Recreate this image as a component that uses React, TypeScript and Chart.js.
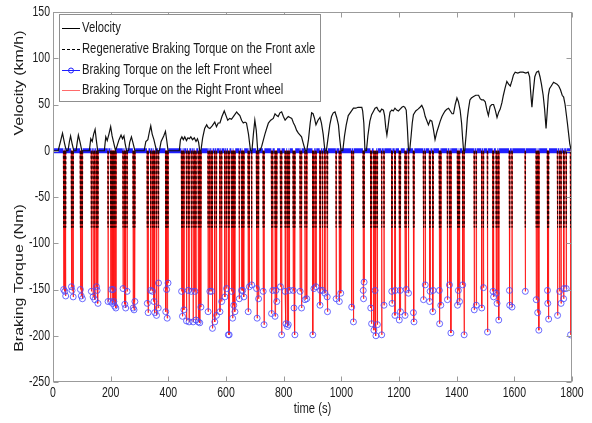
import React, { useEffect, useRef } from 'react';
import { Chart, registerables } from 'chart.js';

Chart.register(...registerables);

// Vehicle speed over the drive cycle (s, km/h)
const velTime = [
  0, 18, 26, 33, 40, 46, 52, 57, 61, 66, 72, 80, 84, 88, 94, 100, 126, 131, 136, 141, 146, 150, 155, 178, 183, 188,
  194, 200, 205, 211, 217, 222, 229, 236, 241, 246, 250, 255, 262, 266, 272, 277, 284, 316, 322, 329, 334, 339, 344,
  350, 356, 360, 369, 375, 384, 390, 395, 399, 438, 442, 447, 452, 457, 463, 468, 473, 478, 484, 490, 496, 501, 505,
  509, 513, 519, 526, 533, 538, 544, 552, 561, 567, 573, 579, 586, 594, 600, 606, 613, 619, 628, 637, 642, 648, 654,
  660, 666, 671, 678, 685, 690, 695, 700, 705, 710, 718, 724, 729, 735, 741, 747, 755, 764, 770, 776, 781, 787, 793,
  799, 805, 810, 816, 822, 828, 834, 839, 845, 851, 857, 862, 868, 875, 880, 886, 892, 897, 902, 907, 912, 919, 926,
  931, 937, 943, 948, 954, 960, 966, 972, 978, 984, 990, 994, 999, 1005, 1011, 1017, 1024, 1033, 1042, 1050, 1058,
  1066, 1071, 1074, 1078, 1082, 1087, 1092, 1099, 1105, 1112, 1117, 1123, 1128, 1134, 1140, 1146, 1150, 1154, 1158,
  1162, 1166, 1169, 1175, 1180, 1186, 1192, 1198, 1204, 1210, 1215, 1220, 1225, 1229, 1233, 1237, 1242, 1246, 1250,
  1258, 1266, 1273, 1279, 1285, 1291, 1296, 1302, 1308, 1314, 1319, 1325, 1331, 1337, 1343, 1349, 1354, 1360, 1366,
  1372, 1378, 1384, 1389, 1395, 1401, 1406, 1412, 1417, 1421, 1424, 1428, 1433, 1437, 1441, 1446, 1451, 1456, 1466,
  1476, 1482, 1487, 1493, 1499, 1505, 1510, 1516, 1522, 1528, 1534, 1540, 1546, 1551, 1557, 1562, 1568, 1574, 1580,
  1586, 1592, 1597, 1603, 1612, 1620, 1630, 1640, 1648, 1653, 1657, 1661, 1665, 1671, 1677, 1684, 1689, 1694, 1700,
  1705, 1710, 1714, 1718, 1722, 1728, 1736, 1742, 1748, 1754, 1760, 1766, 1771, 1776, 1780, 1784, 1788, 1792, 1796,
  1800,
];
const velKmh = [
  0, 0, 10, 19, 8, 0, 0, 10, 16, 8, 0, 0, 9, 17, 9, 0, 0, 13, 10, 18, 23, 12, 0, 0, 15, 11,
  18, 26, 16, 8, 0, 5, 12, 17, 13, 16, 8, 0, 0, 9, 15, 9, 0, 0, 10, 12, 20, 27, 18,
  12, 4, 0, 0, 10, 16, 21, 10, 0, 0, 12, 15, 12, 15, 11, 14, 13, 15, 12, 14, 10, 13, 9,
  0, 0, 14, 24, 28, 25, 24, 27, 31, 26, 30, 30, 37, 43, 38, 33, 35, 34, 38, 42, 40, 38, 33,
  30, 31, 30, 18, 0, 0, 18, 33, 22, 0, 0, 5, 11, 18, 24, 30, 33, 35, 40, 38, 37, 41, 42,
  37, 33, 35, 37, 36, 35, 30, 27, 22, 19, 17, 15, 8, 0, 0, 12, 30, 41, 40, 35, 28, 33, 36,
  30, 18, 0, 0, 14, 28, 37, 41, 42, 36, 28, 14, 0, 0, 16, 28, 38, 42, 46, 46, 47,
  47, 47, 43, 30, 0, 0, 16, 32, 39, 43, 46, 47, 44, 42, 45, 44, 38, 25, 17,
  26, 36, 42, 44, 43, 46, 44, 43, 45, 47, 48, 47, 44, 25, 0, 0, 16, 30, 39,
  43, 45, 47, 49, 45, 37, 33, 28, 33, 32, 24, 12, 20, 26, 32, 37, 40, 43, 45,
  46, 43, 40, 40, 50, 57, 53, 44, 30, 12, 0, 0, 18, 35, 45, 55, 57, 58, 60,
  60, 56, 55, 55, 53, 44, 38, 48, 50, 50, 44, 36, 42, 45, 52, 60, 68, 75, 72,
  70, 76, 82, 85, 84, 85, 85, 84, 85, 80, 62, 47, 62, 80, 85, 86, 80, 72, 60,
  45, 24, 42, 60, 67, 70, 74, 73, 72, 70, 66, 60, 58, 50, 40, 30, 19, 8, 2,
  0,
];

// Friction braking torque samples on the front wheels (s, Nm)
const brakeTime = [
  37, 41, 44, 64, 66, 70, 95, 98, 102, 133, 139, 145, 151, 153, 156,
  191, 200, 203, 206, 208, 211, 214, 218, 243, 249, 252, 257, 278, 281, 284,
  327, 330, 339, 345, 350, 353, 359, 365, 366, 391, 394, 396, 399,
  446, 449, 454, 463, 469, 472, 480, 486, 492, 496, 504, 509, 513,
  538, 544, 550, 553, 561, 567, 579, 585, 596, 602, 608, 611, 619, 623, 627, 631,
  646, 654, 658, 662, 677, 681, 689, 706, 708, 713, 729, 732,
  758, 762, 770, 773, 776, 789, 793, 805, 808, 813, 816, 820, 833, 836, 839,
  857, 862, 874, 880, 901, 905, 912, 926, 928, 935, 943, 951, 952, 982, 993, 998,
  1036, 1042, 1076, 1077, 1079, 1102, 1105, 1113, 1117, 1120, 1125, 1140, 1148,
  1175, 1176, 1186, 1187, 1201, 1204, 1205, 1221, 1225, 1233, 1250, 1252,
  1285, 1291, 1306, 1308, 1317, 1318, 1340, 1341, 1345, 1368, 1375, 1380,
  1403, 1406, 1410, 1421, 1426, 1461, 1468, 1487, 1493, 1507, 1526, 1528, 1537, 1540, 1546,
  1583, 1584, 1592, 1638, 1676, 1681, 1685, 1715, 1716, 1719,
  1750, 1757, 1762, 1771, 1772, 1780, 1795,
];
const brakeTorque = [
  -150, -152, -157, -147, -151, -158, -150, -157, -160, -152, -158, -161, -147, -151, -165,
  -163, -163, -150, -165, -150, -163, -168, -170, -149, -166, -170, -152, -170, -172, -163,
  -165, -175, -151, -152, -163, -175, -178, -170, -143, -174, -150, -181, -143,
  -152, -179, -172, -184, -151, -185, -152, -185, -152, -183, -185, -186, -169,
  -174, -152, -152, -192, -185, -178, -174, -163, -158, -149, -199, -199, -152, -181, -167, -174,
  -160, -151, -151, -158, -174, -147, -145, -149, -181, -160, -152, -188,
  -176, -151, -179, -151, -163, -147, -199, -152, -187, -190, -188, -151, -151, -170, -199,
  -152, -170, -161, -160, -199, -149, -147, -167, -151, -151, -154, -158, -174, -160, -163, -154,
  -169, -185, -151, -160, -142, -170, -187, -194, -151, -200, -188, -199, -167,
  -152, -165, -178, -151, -183, -151, -174, -178, -150, -154, -175, -185,
  -161, -145, -163, -152, -174, -151, -151, -187, -167, -161, -145, -197,
  -167, -151, -163, -145, -199, -172, -167, -170, -148, -196, -152, -158, -154, -165, -183,
  -151, -167, -169, -152, -161, -175, -194, -151, -165, -182,
  -178, -152, -165, -160, -149, -149, -199,
];

// Regenerative torque on the front axle during each braking sample (Nm)
const regenTorque = -83;

const xTicks = [0, 200, 400, 600, 800, 1000, 1200, 1400, 1600, 1800];
const yTicks = [150, 100, 50, 0, -50, -100, -150, -200, -250];

const legendLabels = [
  'Velocity',
  'Regenerative Braking Torque on the Front axle',
  'Braking Torque on the left Front wheel',
  'Braking Torque on the Right Front wheel',
];

const FONT = '"Liberation Sans", Arial, Helvetica, sans-serif';
const SQUEEZE = 0.75;
const BLUE = '#1f1fff';
const RED = 'rgba(255,20,20,0.8)';

type Pt = { x: number; y: number | null };

// Zero line with a one-sample spike for each braking sample
function wheelSeries(times: number[], values: number[]): Pt[] {
  const byTime = new Map<number, number>();
  times.forEach((t, i) => byTime.set(t, values[i]));
  const sorted = [...byTime.keys()].sort((a, b) => a - b);
  const pts: Pt[] = [{ x: 0, y: 0 }];
  sorted.forEach((t) => {
    const last = pts[pts.length - 1];
    if (!byTime.has(t - 1) && (last.x as number) < t - 1) pts.push({ x: t - 1, y: 0 });
    pts.push({ x: t, y: byTime.get(t)! });
    if (!byTime.has(t + 1)) pts.push({ x: t + 1, y: 0 });
  });
  pts.push({ x: 1800, y: 0 });
  return pts;
}

// Isolated regenerative spikes (gaps between them)
function regenSeries(times: number[]): Pt[] {
  const pts: Pt[] = [];
  [...new Set(times)].sort((a, b) => a - b).forEach((t) => {
    pts.push({ x: t - 1, y: 0 }, { x: t, y: regenTorque }, { x: t + 1, y: 0 }, { x: t + 1, y: null });
  });
  return pts;
}

// Helvetica-like text, narrowed horizontally
function squeezedText(
  ctx: CanvasRenderingContext2D,
  text: string,
  x: number,
  y: number,
  size: number,
  align: CanvasTextAlign,
  rotate = false,
) {
  ctx.save();
  ctx.translate(x, y);
  ctx.scale(SQUEEZE, 1);
  if (rotate) ctx.rotate(-Math.PI / 2);
  ctx.font = `${size}px ${FONT}`;
  ctx.textAlign = align;
  ctx.textBaseline = 'middle';
  ctx.fillStyle = '#1a1a1a';
  ctx.fillText(text, 0, 0);
  ctx.restore();
}

const decorations = {
  id: 'decorations',
  afterDraw(chart: Chart) {
    const { ctx, chartArea: a } = chart;
    const xs = chart.scales.x;
    const ys = chart.scales.y;
    ctx.save();

    // axes box
    ctx.strokeStyle = '#9b9b9b';
    ctx.lineWidth = 1;
    const L = Math.round(a.left) + 0.5;
    const R = Math.round(a.right) - 0.5;
    const T = Math.round(a.top) + 0.5;
    const B = Math.round(a.bottom) - 0.5;
    ctx.strokeRect(L, T, R - L, B - T);

    // inward tick marks on all four sides
    ctx.beginPath();
    xs.ticks.forEach((tk) => {
      const px = Math.round(xs.getPixelForValue(tk.value)) + 0.5;
      ctx.moveTo(px, B);
      ctx.lineTo(px, B - 5);
      ctx.moveTo(px, T);
      ctx.lineTo(px, T + 5);
    });
    ys.ticks.forEach((tk) => {
      const py = Math.round(ys.getPixelForValue(tk.value)) + 0.5;
      ctx.moveTo(L, py);
      ctx.lineTo(L + 5, py);
      ctx.moveTo(R, py);
      ctx.lineTo(R - 5, py);
    });
    ctx.stroke();

    // tick labels
    xs.ticks.forEach((tk) => {
      squeezedText(ctx, String(tk.value), xs.getPixelForValue(tk.value), a.bottom + 11, 14, 'center');
    });
    ys.ticks.forEach((tk) => {
      squeezedText(ctx, String(tk.value), a.left - 3, ys.getPixelForValue(tk.value), 14, 'right');
    });

    // legend
    const bx = 59.5;
    const by = 14.5;
    const bw = 261;
    const bh = 87;
    ctx.fillStyle = '#ffffff';
    ctx.fillRect(bx, by, bw, bh);
    ctx.strokeStyle = '#8f8f8f';
    ctx.strokeRect(bx, by, bw, bh);
    const rows = [28, 49, 70, 90];
    const lx0 = 62;
    const lx1 = 80;
    rows.forEach((ry, i) => {
      ctx.save();
      ctx.beginPath();
      ctx.moveTo(lx0, ry + 0.5);
      ctx.lineTo(lx1, ry + 0.5);
      ctx.lineWidth = 1;
      if (i === 0) {
        ctx.strokeStyle = '#000000';
      } else if (i === 1) {
        ctx.strokeStyle = '#000000';
        ctx.setLineDash([3, 2]);
      } else if (i === 2) {
        ctx.strokeStyle = BLUE;
      } else {
        ctx.strokeStyle = '#ff6a6a';
      }
      ctx.stroke();
      if (i === 2) {
        ctx.beginPath();
        ctx.arc((lx0 + lx1) / 2, ry + 0.5, 2.5, 0, Math.PI * 2);
        ctx.stroke();
      }
      ctx.restore();
      squeezedText(ctx, legendLabels[i], 82, ry, 15, 'left');
    });

    // axis titles
    squeezedText(ctx, 'Velocity (km/h)', 20, 83, 16, 'center', true);
    squeezedText(ctx, 'Braking Torque (Nm)', 20, 278, 16, 'center', true);
    squeezedText(ctx, 'time (s)', (a.left + a.right) / 2, 409, 15, 'center');

    ctx.restore();
  },
};

export default function App() {
  const canvasRef = useRef<HTMLCanvasElement>(null);

  useEffect(() => {
    const canvas = canvasRef.current;
    if (!canvas) return;

    const velocity = velTime.map((t, i) => ({ x: t, y: velKmh[i] }));
    const wheel = wheelSeries(brakeTime, brakeTorque);
    const regen = regenSeries(brakeTime);
    const onZero = (c: any) => c.p0.parsed.y === 0 && c.p1.parsed.y === 0;

    const chart = new Chart(canvas, {
      type: 'line',
      data: {
        datasets: [
          {
            label: legendLabels[0],
            data: velocity,
            borderColor: '#111111',
            borderWidth: 1.2,
            pointRadius: 0,
            tension: 0,
          },
          {
            label: legendLabels[1],
            data: regen,
            borderColor: '#2a0000',
            borderWidth: 1,
            borderDash: [3, 2],
            pointRadius: 0,
            spanGaps: false,
          },
          {
            // left wheel: zero band plus circle markers; its spikes coincide with the right wheel's
            label: legendLabels[2],
            data: wheel,
            borderColor: BLUE,
            borderWidth: 1,
            pointRadius: (c: any) => (c.raw && c.raw.y !== 0 ? 3 : 0),
            pointBorderColor: 'rgba(70,70,255,0.8)',
            pointBackgroundColor: 'rgba(0,0,0,0)',
            pointBorderWidth: 1,
            segment: {
              borderWidth: (c: any) => (onZero(c) ? 5 : 1),
              borderColor: (c: any) => (onZero(c) ? BLUE : 'rgba(0,0,0,0)'),
            },
          },
          {
            label: legendLabels[3],
            data: wheel,
            borderColor: RED,
            borderWidth: 1,
            pointRadius: 0,
          },
        ],
      },
      options: {
        animation: false,
        responsive: false,
        parsing: false as any,
        normalized: true,
        layout: { padding: { top: 12, right: 20, left: 0, bottom: 0 } },
        plugins: {
          legend: { display: false },
          tooltip: { enabled: false },
        },
        scales: {
          x: {
            type: 'linear',
            min: 0,
            max: 1800,
            afterBuildTicks: (s: any) => {
              s.ticks = xTicks.map((v) => ({ value: v }));
            },
            afterFit: (s: any) => {
              s.height = 41;
            },
            grid: { display: false, drawTicks: false },
            border: { display: false },
            ticks: { display: false },
          },
          y: {
            type: 'linear',
            min: -250,
            max: 150,
            afterBuildTicks: (s: any) => {
              s.ticks = yTicks.map((v) => ({ value: v }));
            },
            afterFit: (s: any) => {
              s.width = 53;
            },
            grid: { display: false, drawTicks: false },
            border: { display: false },
            ticks: { display: false },
          },
        },
      },
      plugins: [decorations],
    });

    return () => chart.destroy();
  }, []);

  return (
    <div style={{ position: 'absolute', left: 0, top: 0, width: 592, height: 423, background: '#ffffff' }}>
      <canvas ref={canvasRef} width={592} height={423} style={{ display: 'block', width: 592, height: 423 }} />
    </div>
  );
}
